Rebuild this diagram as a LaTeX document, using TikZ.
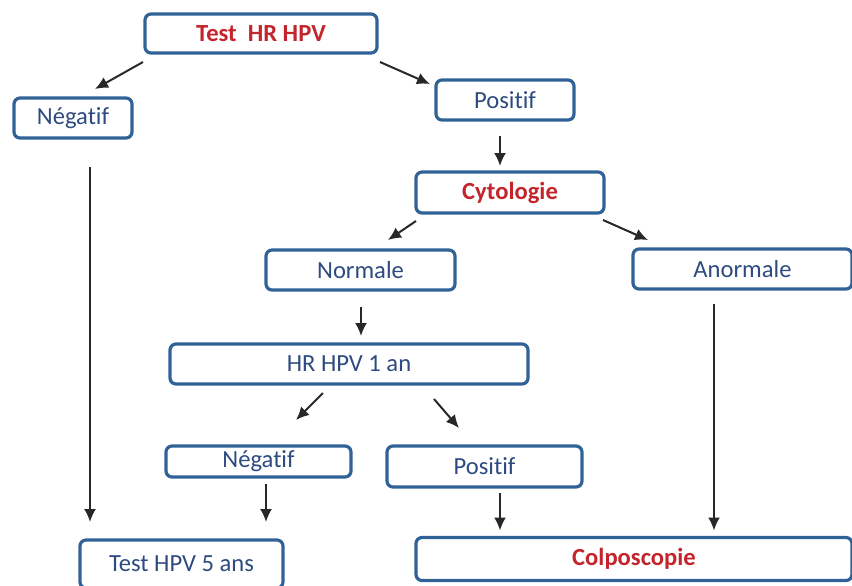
\documentclass[tikz,border=0pt]{standalone}
\usepackage{fontspec}
\setmainfont{Carlito}[Ligatures=NoCommon]
\usepackage{xcolor}
\usepackage{tikz}
\usetikzlibrary{arrows.meta}
\usetikzlibrary{positioning}
\definecolor{boxblue}{RGB}{48,98,152}
\definecolor{txtblue}{RGB}{45,75,128}
\definecolor{txtred}{RGB}{196,36,44}
\definecolor{arrowgray}{RGB}{40,40,40}
\begin{document}
\begin{tikzpicture} [
                x=0.5pt, y=-0.5pt,
                box/.style = {draw=boxblue, line width=1.6pt, rounded corners=3pt, inner sep=0pt, outer sep=0pt, text=txtblue, font=\fontsize{12.3}{14}\selectfont},
                redbox/.style = {box, text=txtred, font=\fontsize{12.3}{14}\selectfont\bfseries},
                arr/.style = {-{Latex[length=6.5pt,width=6pt]}, line width=1pt, draw=arrowgray}
            ]
            \useasboundingbox (0,0) rectangle (852,585);
            \node (test) at (261, 33.5) [redbox, minimum width=116pt, minimum height=19.5pt] {Test\ \ HR HPV};
            \node (negA) at (73, 118) [box, minimum width=59pt, minimum height=20pt] {Négatif};
            \node (posA) at (505, 100) [box, minimum width=69pt, minimum height=20pt] {Positif};
            \node (cyto) at (510, 192.5) [redbox, minimum width=94pt, minimum height=20.5pt] {Cytologie};
            \node (norm) at (360.5, 270) [box, minimum width=94.5pt, minimum height=20pt] {Normale};
            \node (anorm) at (742.5, 269) [box, minimum width=109.5pt, minimum height=20pt] {Anormale};
            \node (hrhpv) at (349, 364) [box, minimum width=179pt, minimum height=20pt] {HR HPV 1 an};
            \node (negB) at (258.5, 461.5) [box, minimum width=92.5pt, minimum height=15.5pt] {Négatif};
            \node (posB) at (484.5, 466.5) [box, minimum width=97.5pt, minimum height=20.5pt] {Positif};
            \node (test5) at (181.5, 564) [box, minimum width=101.5pt, minimum height=24pt] {Test HPV 5 ans};
            \node (colpo) at (634, 559) [redbox, minimum width=218pt, minimum height=21.5pt] {Colposcopie};
            \draw [arr] ([xshift=-1pt, yshift=-4.5pt] test.south west) -- ([xshift=11pt, yshift=4.5pt] negA.north);
            \draw [arr] ([xshift=1.5pt, yshift=-4.5pt] test.south east) -- ([xshift=-3pt, yshift=-2pt] posA.north west);
            \draw [arr] ([xshift=-2.5pt, yshift=-8pt] posA.south) -- ([xshift=-5pt, yshift=3pt] cyto.north);
            \draw [arr] ([yshift=-4pt] cyto.south west) -- ([xshift=13.75pt, yshift=5pt] norm.north);
            \draw [arr] ([xshift=-0.5pt, yshift=-3.5pt] cyto.south east) -- ([xshift=7.5pt, yshift=4.5pt] anorm.north west);
            \draw [arr] ([xshift=0.25pt, yshift=-8.5pt] norm.south) -- ([xshift=6pt, yshift=4pt] hrhpv.north);
            \draw [arr] ([xshift=-13pt, yshift=-4.5pt] hrhpv.south) -- ([xshift=18.75pt, yshift=13pt] negB.north);
            \draw [arr] ([xshift=42.5pt, yshift=-7.5pt] hrhpv.south) -- ([xshift=-12.75pt, yshift=9pt] posB.north);
            \draw [arr] ([xshift=3.75pt, yshift=-3.5pt] negB.south) -- ([xshift=42.25pt, yshift=9pt] test5.north);
            \draw [arr] ([xshift=8.5pt, yshift=-14.5pt] negA.south) -- ([xshift=5pt, yshift=9pt] test5.north west);
            \draw [arr] ([xshift=7.75pt, yshift=-3pt] posB.south) -- ([xshift=42pt, yshift=3.5pt] colpo.north west);
            \draw [arr] ([xshift=-14.25pt, yshift=-7.5pt] anorm.south) -- ([xshift=40pt, yshift=3.5pt] colpo.north);
        \end{tikzpicture}
\end{document}
